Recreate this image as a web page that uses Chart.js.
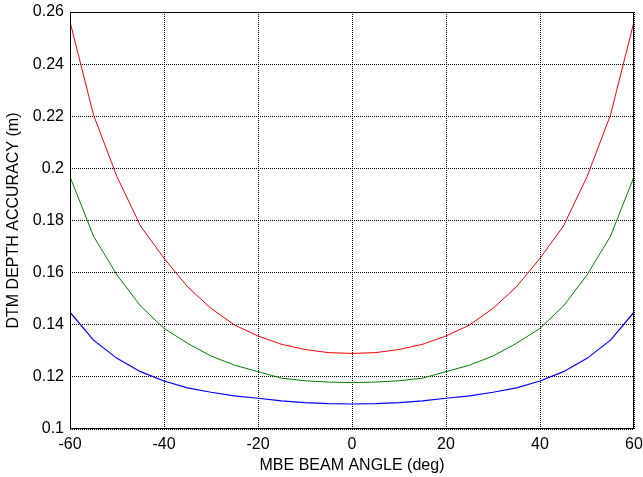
<!DOCTYPE html>
<html>
<head>
<meta charset="utf-8">
<script src="https://cdn.jsdelivr.net/npm/chart.js@4/dist/chart.umd.min.js"></script>
<style>
html,body{margin:0;padding:0;background:#fff;}
#wrap{width:643px;height:477px;}
</style>
</head>
<body>
<div id="wrap"><canvas id="c" width="643" height="477"></canvas></div>
<script>
const angles = [-60,-55,-50,-45,-40,-35,-30,-25,-20,-15,-10,-5,0,5,10,15,20,25,30,35,40,45,50,55,60];
const redSeries   = [0.2563,0.2205,0.1968,0.1779,0.1655,0.1546,0.1463,0.1399,0.1357,0.1325,0.1305,0.1293,0.1290,0.1293,0.1305,0.1325,0.1357,0.1399,0.1463,0.1546,0.1655,0.1779,0.1968,0.2205,0.2563];
const greenSeries = [0.1968,0.1740,0.1591,0.1472,0.1386,0.1329,0.1280,0.1245,0.1220,0.1195,0.1185,0.1180,0.1178,0.1180,0.1185,0.1195,0.1220,0.1245,0.1280,0.1329,0.1386,0.1472,0.1591,0.1740,0.1968];
const blueSeries  = [0.1448,0.1341,0.1271,0.1220,0.1184,0.1158,0.1141,0.1127,0.1118,0.1108,0.1101,0.1097,0.1096,0.1097,0.1101,0.1108,0.1118,0.1127,0.1141,0.1158,0.1184,0.1220,0.1271,0.1341,0.1448];
const xTicks = [-60,-40,-20,0,20,40,60];
const yTicks = [0.1,0.12,0.14,0.16,0.18,0.2,0.22,0.24,0.26];
const xTitle = 'MBE BEAM ANGLE (deg)';
const yTitle = 'DTM DEPTH ACCURACY (m)';

function pts(arr){ return angles.map((a,i)=>({x:a,y:arr[i]})); }
const font = {family:"'Liberation Sans', Arial, sans-serif", size:16};

const frame = {
  id:'frame',
  afterDraw(chart){
    const {ctx, chartArea:a} = chart;
    ctx.save();
    ctx.strokeStyle='#000';
    ctx.lineWidth=1;
    ctx.strokeRect(Math.round(a.left)+0.5, Math.round(a.top)+0.5, Math.round(a.right-a.left)-1, Math.round(a.bottom-a.top)-1);
    ctx.restore();
  }
};

new Chart(document.getElementById('c'), {
  type:'line',
  data:{datasets:[
    {data:pts(redSeries), borderColor:'#ff0000', borderWidth:1, pointRadius:0, tension:0},
    {data:pts(greenSeries), borderColor:'#008000', borderWidth:1, pointRadius:0, tension:0},
    {data:pts(blueSeries), borderColor:'#0000ff', borderWidth:1.2, pointRadius:0, tension:0}
  ]},
  options:{
    responsive:false, animation:false, devicePixelRatio:1,
    layout:{padding:{top:12,right:9,bottom:0,left:0}},
    plugins:{legend:{display:false}, tooltip:{enabled:false}},
    scales:{
      x:{type:'linear', min:-60, max:60,
        afterFit(s){ s.height=48; s.paddingLeft=0; s.paddingRight=0; },
        afterBuildTicks(s){ s.ticks = xTicks.map(v=>({value:v})); },
        ticks:{color:'#000', font, padding:6, maxRotation:0, callback:v=>String(v)},
        grid:{color:'#000', lineWidth:1, drawTicks:false},
        border:{display:false, dash:[1,1]},
        title:{display:true, text:xTitle, color:'#000', font, padding:{top:0,bottom:2}}
      },
      y:{type:'linear', min:0.1, max:0.26,
        afterFit(s){ s.width=70; s.paddingTop=0; s.paddingBottom=0; },
        afterBuildTicks(s){ s.ticks = yTicks.map(v=>({value:v})); },
        ticks:{color:'#000', font, padding:6, callback:v=>String(parseFloat(v.toFixed(2)))},
        grid:{color:'#000', lineWidth:1, drawTicks:false},
        border:{display:false, dash:[1,1]},
        title:{display:true, text:yTitle, color:'#000', font, padding:{top:4,bottom:0}}
      }
    }
  },
  plugins:[frame]
});
</script>
</body>
</html>
